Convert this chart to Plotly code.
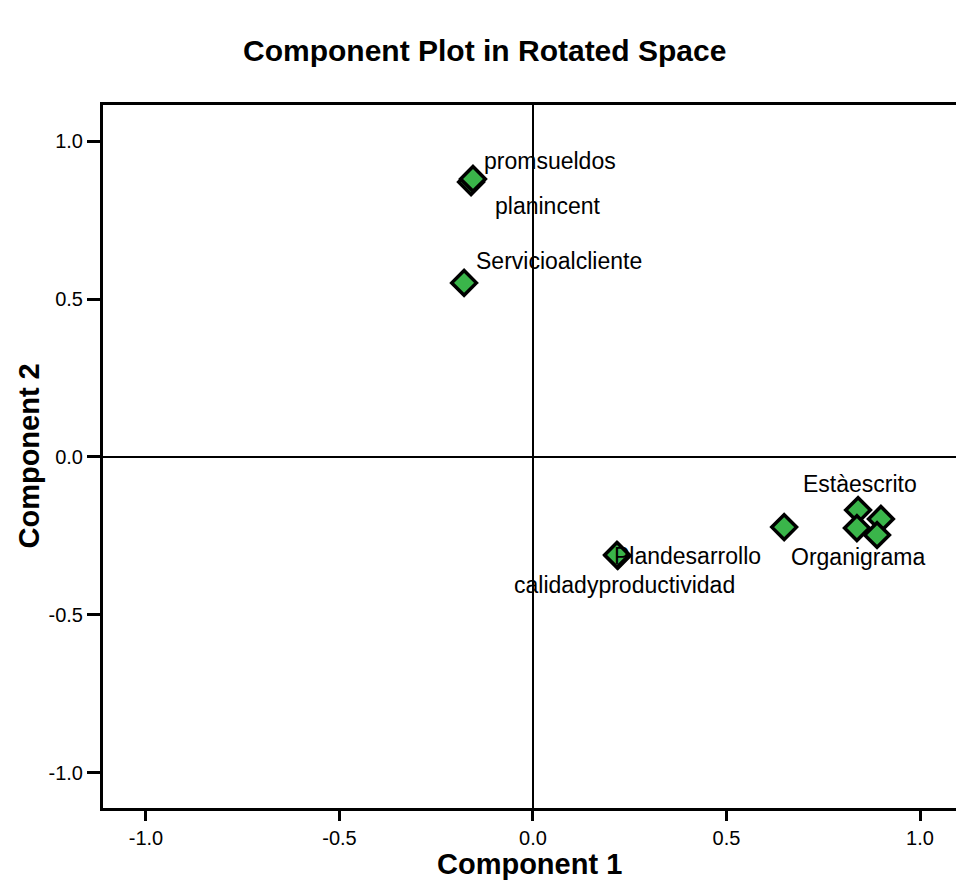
import plotly.graph_objects as go

# Component loadings
names = ["planincent", "promsueldos", "Servicioalcliente", "calidadyproductividad",
         "Plandesarrollo", "", "Estàescrito", "", "", "Organigrama"]
comp1 = [-0.160, -0.155, -0.178, 0.219, 0.217, 0.649, 0.840, 0.899, 0.837, 0.889]
comp2 = [0.870, 0.880, 0.551, -0.313, -0.310, -0.222, -0.168, -0.196, -0.225, -0.247]

# label offsets in pixels (xshift, yshift), left-anchored
label_offsets = {
    "promsueldos": (9, 18),
    "planincent": (22, -24),
    "Servicioalcliente": (10, 22),
    "Estàescrito": (-57, 26),
    "Organigrama": (-88, -22),
    "Plandesarrollo": (-5, -1),
    "calidadyproductividad": (-106, -29),
}

x_ticks = [-1.0, -0.5, 0.0, 0.5, 1.0]
y_ticks = [-1.0, -0.5, 0.0, 0.5, 1.0]

FONT = "Liberation Sans, Arial"

fig = go.Figure()
fig.add_trace(go.Scatter(
    x=comp1, y=comp2, mode="markers",
    marker=dict(symbol="diamond", size=19, color="#3AB54A",
                line=dict(color="black", width=3.5)),
    hoverinfo="skip", showlegend=False,
))

annotations = []
for n, x, y in zip(names, comp1, comp2):
    if n in label_offsets:
        dx, dy = label_offsets[n]
        annotations.append(dict(x=x, y=y, xref="x", yref="y", text=n, showarrow=False,
                                xanchor="left", yanchor="middle", xshift=dx, yshift=dy,
                                font=dict(family=FONT, size=23, color="black")))

annotations.append(dict(x=0.5, y=-0.0790, xref="paper", yref="paper", text="<b>Component 1</b>",
                        showarrow=False, xanchor="center", yanchor="middle",
                        font=dict(family=FONT, size=29, color="black")))
annotations.append(dict(x=-0.0879, y=0.5, xref="paper", yref="paper", text="<b>Component 2</b>",
                        showarrow=False, xanchor="center", yanchor="middle", textangle=-90,
                        font=dict(family=FONT, size=29, color="black")))

fig.update_layout(
    width=956, height=892,
    margin=dict(l=103, r=0, t=105, b=84),
    paper_bgcolor="white", plot_bgcolor="white",
    title=dict(text="<b>Component Plot in Rotated Space</b>", x=0.507, xanchor="center",
               y=1 - 50 / 892, yanchor="middle",
               font=dict(family=FONT, size=30, color="black")),
    annotations=annotations,
    xaxis=dict(range=[-1.111, 1.093], tickvals=x_ticks, ticktext=[f"{v:.1f}" for v in x_ticks],
               showgrid=False, zeroline=True, zerolinecolor="black", zerolinewidth=2,
               showline=True, linecolor="black", linewidth=3, mirror=True,
               ticks="outside", ticklen=10, tickwidth=3, tickcolor="black",
               tickfont=dict(family=FONT, size=20, color="black")),
    yaxis=dict(range=[-1.111, 1.114], tickvals=y_ticks, ticktext=[f"{v:.1f}" for v in y_ticks],
               showgrid=False, zeroline=True, zerolinecolor="black", zerolinewidth=2,
               showline=True, linecolor="black", linewidth=3, mirror=False,
               ticks="outside", ticklen=13, tickwidth=3, tickcolor="black",
               tickfont=dict(family=FONT, size=20, color="black")),
)

fig.write_html("out.html")
